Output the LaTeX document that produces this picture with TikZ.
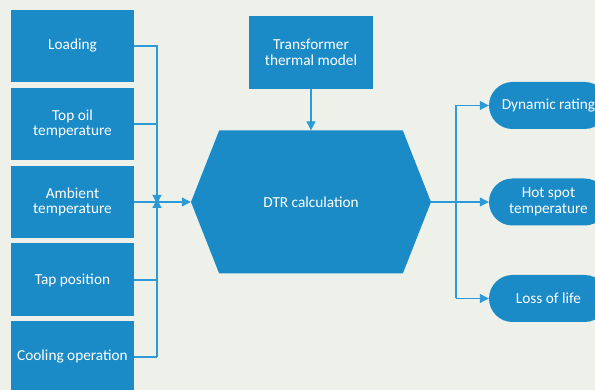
\documentclass[tikz,border=0pt]{standalone}
\usepackage{fontspec}
\setmainfont{Carlito}
\usetikzlibrary{arrows.meta,shapes.symbols,shapes.misc}
\definecolor{bg}{HTML}{EEF1EA}
\definecolor{boxblue}{HTML}{1B8BC7}
\definecolor{lineblue}{HTML}{2C9AD6}
\tikzset{
  labelfont/.style={font=\fontsize{15.3}{15.5}\selectfont},
  inbox/.style={fill=boxblue, draw=none, text=white, minimum width=123pt, minimum height=72pt,
    inner sep=2pt, align=center, labelfont},
  outbox/.style={rounded rectangle, fill=boxblue, draw=none, text=white, minimum width=123pt,
    minimum height=47pt, inner sep=2pt, align=center, labelfont},
  conn/.style={draw=lineblue, line width=1.1pt},
  arr/.style={conn, -{Triangle[length=9pt,width=9pt]}},
}
\begin{document}
\begin{tikzpicture}[x=1pt,y=-1pt]
\fill[bg] (0,0) rectangle (595,390);
\useasboundingbox (0,0) rectangle (595,390);
\clip (0,0) rectangle (595,390);

% input quantities
\node[inbox] (load) at (72.5,46) {Loading};
\node[inbox] (oil) at (72.5,124) {Top oil\\temperature};
\node[inbox] (amb) at (72.5,202) {Ambient\\temperature};
\node[inbox, minimum height=73pt] (tap) at (72.5,280) {Tap position};
\node[inbox] (cool) at (72.5,357) {Cooling operation};

% model and calculation
\node[inbox, minimum width=124pt, minimum height=73pt] (model) at (311,52.5) {Transformer\\thermal model};
\node[signal, signal to=west and east, signal pointer angle=137, fill=boxblue, draw=none,
  text=white, minimum width=240pt, minimum height=143pt, inner sep=0pt,
  labelfont] (dtr) at (311,202) {DTR calculation};

% outputs
\node[outbox] (rate) at (548.5,105.5) {Dynamic rating};
\node[outbox] (hot) at (548.5,202) {Hot spot\\temperature};
\node[outbox] (life) at (548.5,298.5) {Loss of life};

% collecting bus on the left
\coordinate (busL) at (157,202);
\draw[conn] (load.east) -- (load.east -| busL) -- ([yshift=-3pt]busL);
\draw[arr] (load.east -| busL) -- ([yshift=-2pt]busL);
\draw[conn] (oil.east) -- (oil.east -| busL);
\draw[conn] (tap.east) -- (tap.east -| busL);
\draw[conn] (cool.east) -- (cool.east -| busL);
\draw[arr] (cool.east -| busL) -- ([yshift=3pt]busL);
\draw[arr] (amb.east) -- (dtr.west);

% model feeds the calculation
\draw[arr] (model.south) -- (dtr.north);

% distribution bus on the right
\coordinate (busR) at (456,202);
\draw[conn] (dtr.east) -- (busR);
\draw[conn] (busR |- rate.west) -- (busR |- life.west);
\draw[arr] (busR |- rate.west) -- (rate.west);
\draw[arr] (busR) -- (hot.west);
\draw[arr] (busR |- life.west) -- (life.west);
\end{tikzpicture}
\end{document}
